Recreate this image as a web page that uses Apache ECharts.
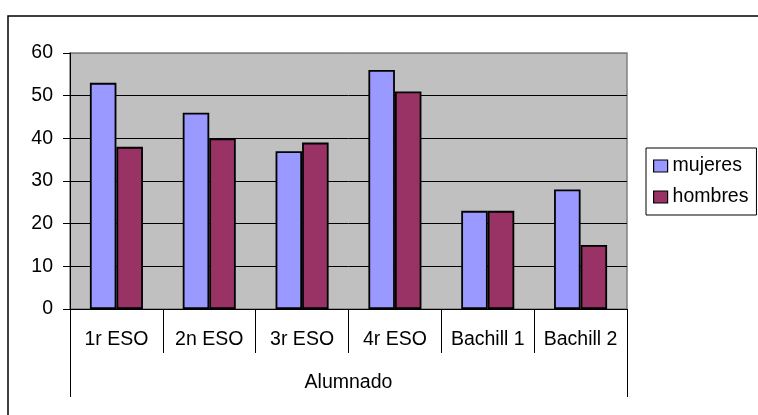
<!DOCTYPE html>
<html>
<head>
<meta charset="utf-8">
<script src="https://cdn.jsdelivr.net/npm/echarts@6/dist/echarts.min.js"></script>
<style>
  html, body { margin: 0; padding: 0; background: #fff; }
  #chart { width: 758px; height: 415px; }
</style>
</head>
<body>
<div id="chart"></div>
<script>
// Alumnado por curso y sexo
const categories = ['1r ESO', '2n ESO', '3r ESO', '4r ESO', 'Bachill 1', 'Bachill 2'];
const groupLabel = ['Alumnado'];
const mujeres = [53, 46, 37, 56, 23, 28];
const hombres = [38, 40, 39, 51, 23, 15];
const yTicks = { min: 0, max: 60, interval: 10 };

const FONT = '"Liberation Sans", Arial, sans-serif';
const FS = 19.5;

const chart = echarts.init(document.getElementById('chart'), null, { renderer: 'canvas' });

chart.setOption({
  animation: false,
  backgroundColor: '#ffffff',
  textStyle: { fontFamily: FONT, color: '#000' },
  graphic: [{
    type: 'rect',
    shape: { x: 8, y: 16, width: 800, height: 500 },
    style: { fill: 'none', stroke: '#000', lineWidth: 1.5 },
    z: -10
  }],
  grid: {
    left: 70, top: 53, right: 131, bottom: 106,
    show: true,
    backgroundColor: '#C0C0C0',
    borderColor: '#808080',
    borderWidth: 1.5
  },
  legend: {
    orient: 'vertical',
    left: 646, top: 148,
    padding: [8, 8, 8, 7],
    itemGap: 11,
    itemWidth: 14,
    itemHeight: 12,
    icon: 'rect',
    borderColor: '#000',
    borderWidth: 1,
    backgroundColor: '#fff',
    itemStyle: { borderColor: '#000', borderWidth: 1.2 },
    textStyle: { fontFamily: FONT, fontSize: FS, color: '#000', padding: [0, 0, 0, 0] },
    data: ['mujeres', 'hombres']
  },
  xAxis: [{
    type: 'category',
    data: categories,
    position: 'bottom',
    boundaryGap: true,
    axisLine: { show: true, lineStyle: { color: '#000', width: 1 } },
    axisTick: { show: true, interval: 0, length: 44, inside: false, lineStyle: { color: '#000', width: 1 } },
    axisLabel: { interval: 0, margin: 21, fontFamily: FONT, fontSize: FS, color: '#000' },
    splitLine: { show: false }
  }, {
    type: 'category',
    data: groupLabel,
    position: 'bottom',
    boundaryGap: true,
    axisLine: { show: false },
    axisTick: { show: true, interval: 0, length: 88, lineStyle: { color: '#000', width: 1 } },
    axisLabel: { interval: 0, margin: 64, fontFamily: FONT, fontSize: FS, color: '#000' },
    splitLine: { show: false }
  }],
  yAxis: {
    type: 'value',
    min: yTicks.min,
    max: yTicks.max,
    interval: yTicks.interval,
    axisLine: { show: true, lineStyle: { color: '#000', width: 1 } },
    axisTick: { show: true, length: 7, lineStyle: { color: '#000', width: 1 } },
    axisLabel: { margin: 17, fontFamily: FONT, fontSize: FS, color: '#000' },
    splitLine: {
      show: true,
      lineStyle: { color: ['#000', '#000', '#000', '#000', '#000', '#000', '#808080'], width: 1 }
    }
  },
  series: [{
    name: 'mujeres',
    type: 'bar',
    xAxisIndex: 0,
    data: mujeres,
    barGap: '0%',
    barCategoryGap: '42.86%',
    itemStyle: { color: '#9999FF', borderColor: '#000', borderWidth: 1.8 }
  }, {
    name: 'hombres',
    type: 'bar',
    xAxisIndex: 0,
    data: hombres,
    barGap: '0%',
    barCategoryGap: '42.86%',
    itemStyle: { color: '#993366', borderColor: '#000', borderWidth: 1.8 }
  }]
});
</script>
</body>
</html>
